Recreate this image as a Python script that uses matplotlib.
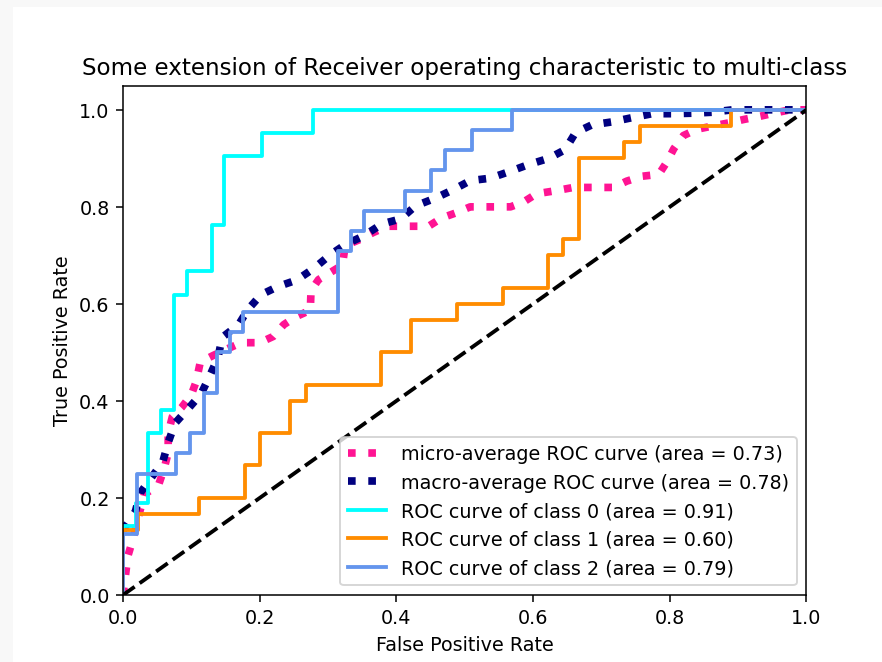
import matplotlib
matplotlib.use('Agg')
import matplotlib.pyplot as plt
from matplotlib.patches import Rectangle

# ROC曲線の値
# class 0
fpr_class0 = [0.0, 0.0, 0.019, 0.019, 0.037, 0.037, 0.056, 0.056, 0.074, 0.074, 0.093,
              0.093, 0.130, 0.130, 0.148, 0.148, 0.204, 0.204, 0.278, 0.278, 1.0]
tpr_class0 = [0.0, 0.143, 0.143, 0.190, 0.190, 0.333, 0.333, 0.381, 0.381, 0.619, 0.619,
              0.667, 0.667, 0.762, 0.762, 0.905, 0.905, 0.952, 0.952, 1.0, 1.0]

# class 1
fpr_class1 = [0.0, 0.0, 0.022, 0.022, 0.111, 0.111, 0.178, 0.178, 0.200, 0.200, 0.244, 0.244,
              0.267, 0.267, 0.378, 0.378, 0.422, 0.422, 0.489, 0.489, 0.556, 0.556, 0.622,
              0.622, 0.644, 0.644, 0.667, 0.667, 0.733, 0.733, 0.756, 0.756, 0.889, 0.889, 1.0]
tpr_class1 = [0.0, 0.133, 0.133, 0.167, 0.167, 0.200, 0.200, 0.267, 0.267, 0.333, 0.333, 0.400,
              0.400, 0.433, 0.433, 0.500, 0.500, 0.567, 0.567, 0.600, 0.600, 0.633, 0.633,
              0.700, 0.700, 0.733, 0.733, 0.900, 0.900, 0.933, 0.933, 0.967, 0.967, 1.0, 1.0]

# class 2
fpr_class2 = [0.0, 0.0, 0.020, 0.020, 0.078, 0.078, 0.098, 0.098, 0.118, 0.118, 0.137, 0.137,
              0.157, 0.157, 0.176, 0.176, 0.314, 0.314, 0.333, 0.333, 0.353, 0.353, 0.412,
              0.412, 0.451, 0.451, 0.471, 0.471, 0.510, 0.510, 0.569, 0.569, 1.0]
tpr_class2 = [0.0, 0.125, 0.125, 0.250, 0.250, 0.292, 0.292, 0.333, 0.333, 0.417, 0.417, 0.500,
              0.500, 0.542, 0.542, 0.583, 0.583, 0.708, 0.708, 0.750, 0.750, 0.792, 0.792,
              0.833, 0.833, 0.875, 0.875, 0.917, 0.917, 0.958, 0.958, 1.0, 1.0]

# micro-average
fpr_micro = [0.0, 0.007, 0.014, 0.026, 0.031, 0.052, 0.060, 0.066, 0.066, 0.072, 0.086, 0.100,
             0.107, 0.113, 0.131, 0.152, 0.173, 0.200, 0.220, 0.235, 0.252, 0.274, 0.275,
             0.286, 0.306, 0.321, 0.325, 0.347, 0.366, 0.387, 0.447, 0.466, 0.486, 0.508,
             0.567, 0.586, 0.605, 0.632, 0.659, 0.718, 0.737, 0.759, 0.784, 0.796, 0.806,
             0.820, 0.840, 0.864, 0.886, 0.908, 0.933, 0.952, 0.976, 1.0]
tpr_micro = [0.0, 0.080, 0.113, 0.180, 0.207, 0.227, 0.260, 0.293, 0.333, 0.367, 0.387, 0.413,
             0.440, 0.480, 0.493, 0.507, 0.520, 0.520, 0.533, 0.557, 0.573, 0.587, 0.627,
             0.650, 0.667, 0.680, 0.720, 0.733, 0.747, 0.760, 0.760, 0.777, 0.787, 0.800,
             0.800, 0.810, 0.827, 0.833, 0.840, 0.840, 0.853, 0.863, 0.867, 0.893, 0.920,
             0.947, 0.960, 0.967, 0.973, 0.980, 0.987, 0.993, 1.0, 1.0]

# macro-average
fpr_macro = [0.0, 0.018, 0.025, 0.058, 0.066, 0.076, 0.096, 0.114, 0.127, 0.139, 0.145, 0.169,
             0.183, 0.202, 0.227, 0.254, 0.280, 0.303, 0.326, 0.352, 0.379, 0.406, 0.428,
             0.457, 0.484, 0.508, 0.537, 0.566, 0.593, 0.623, 0.647, 0.662, 0.686, 0.715,
             0.742, 0.774, 0.803, 0.832, 0.862, 0.891, 1.0]
tpr_macro = [0.134, 0.172, 0.210, 0.274, 0.314, 0.354, 0.385, 0.414, 0.452, 0.490, 0.531, 0.557,
             0.589, 0.619, 0.636, 0.649, 0.674, 0.701, 0.723, 0.740, 0.765, 0.775, 0.802,
             0.818, 0.836, 0.854, 0.859, 0.873, 0.887, 0.900, 0.918, 0.953, 0.969, 0.975,
             0.983, 0.992, 0.992, 0.993, 0.995, 1.0, 1.0]

roc_auc = {'micro': 0.73, 'macro': 0.78, 0: 0.91, 1: 0.60, 2: 0.79}
class_curves = [(fpr_class0, tpr_class0), (fpr_class1, tpr_class1), (fpr_class2, tpr_class2)]
class_colors = ['aqua', 'darkorange', 'cornflowerblue']

# 画像サイズ 882x662
DPI = 137.8
fig = plt.figure(figsize=(882.5 / DPI, 662.5 / DPI), dpi=DPI)
ax = fig.add_axes([123 / 882, 67 / 662, 683 / 882, 509 / 662])

# スクリーンショットの薄い灰色の余白
fig.patches.append(Rectangle((0, 0), 13 / 882, 1, transform=fig.transFigure,
                             facecolor='#f8f8f8', edgecolor='none', zorder=-1))
fig.patches.append(Rectangle((0, 1 - 7 / 662), 1, 7 / 662, transform=fig.transFigure,
                             facecolor='#f8f8f8', edgecolor='none', zorder=-1))

lw = 2
ax.plot(fpr_micro, tpr_micro,
        label='micro-average ROC curve (area = {0:0.2f})'.format(roc_auc['micro']),
        color='deeppink', linestyle=':', linewidth=4)
ax.plot(fpr_macro, tpr_macro,
        label='macro-average ROC curve (area = {0:0.2f})'.format(roc_auc['macro']),
        color='navy', linestyle=':', linewidth=4)

for i, ((fpr, tpr), color) in enumerate(zip(class_curves, class_colors)):
    ax.plot(fpr, tpr, color=color, lw=lw,
            label='ROC curve of class {0} (area = {1:0.2f})'.format(i, roc_auc[i]))

ax.plot([0, 1], [0, 1], 'k--', lw=lw)
ax.set_xlim([0.0, 1.0])
ax.set_ylim([0.0, 1.05])
ax.set_xlabel('False Positive Rate')
ax.set_ylabel('True Positive Rate')
ax.set_title('Some extension of Receiver operating characteristic to multi-class')
ax.legend(loc='lower right')

fig.savefig('out.png', dpi=DPI)
plt.close(fig)
